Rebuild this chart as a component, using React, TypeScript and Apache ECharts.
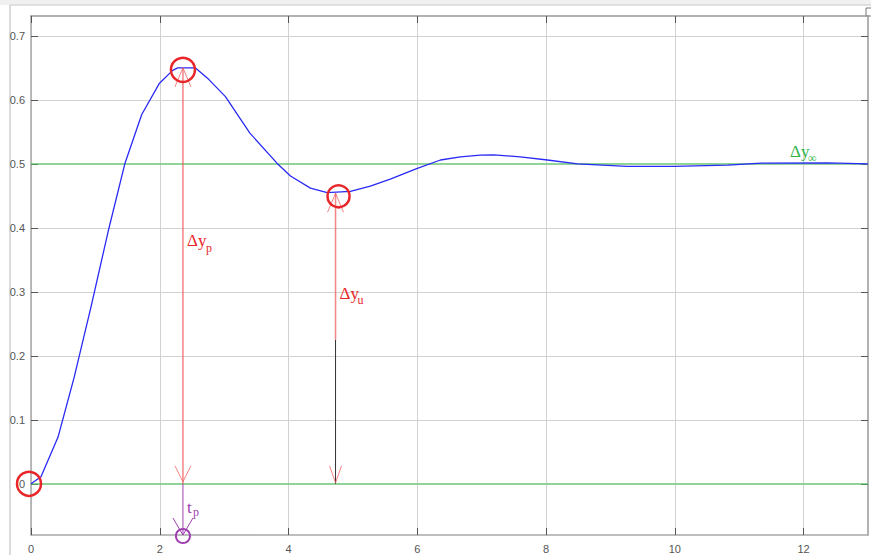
import React, { useEffect, useRef } from 'react';
import * as echarts from 'echarts';

// Step response samples (time, output)
const timeValues = [0, 0.155, 0.42, 0.669, 0.933, 1.2, 1.46, 1.72, 1.996, 2.2, 2.28, 2.55, 2.76, 3.02, 3.4, 3.82, 4.03, 4.34, 4.6, 4.96, 5.27, 5.58, 6.0, 6.36, 6.67, 6.98, 7.19, 7.6, 8.02, 8.49, 9.26, 9.98, 10.82, 11.34, 12.37, 13];
const responseValues = [0, 0.011, 0.073, 0.166, 0.277, 0.395, 0.501, 0.577, 0.626, 0.646, 0.65, 0.65, 0.632, 0.605, 0.548, 0.501, 0.481, 0.462, 0.455, 0.457, 0.465, 0.476, 0.493, 0.506, 0.511, 0.5135, 0.514, 0.511, 0.506, 0.5, 0.496, 0.496, 0.498, 0.501, 0.5015, 0.5];

// Axis ticks
const xTickValues = [0, 2, 4, 6, 8, 10, 12];
const yTickValues = [0, 0.1, 0.2, 0.3, 0.4, 0.5, 0.6, 0.7];

// Reference levels and annotated points
const steadyValue = 0.5;
const zeroValue = 0;
const peakTime = 2.36;
const peakValue = 0.65;
const underTime = 4.73;
const underValue = 0.454;

const X_MIN = 0;
const X_MAX = 13;
const Y_MIN = -0.08;
const Y_MAX = 0.731;

const RED = '#e8262a';
const RED_LIGHT = 'rgba(240,90,90,0.75)';
const GREEN = '#5fcc6e';
const GREEN_TEXT = '#2fb44a';
const PURPLE = '#a040b0';
const SERIF = '"Liberation Serif", "DejaVu Serif", serif';

export default function App() {
  const ref = useRef<HTMLDivElement>(null);

  useEffect(() => {
    if (!ref.current) return;
    const chart = echarts.init(ref.current, undefined, { renderer: 'svg' });

    const curve = timeValues.map((t, i) => [t, responseValues[i]]);

    const renderAnnotations = (_params: any, api: any) => {
      const c = (t: number, v: number) => api.coord([t, v]);
      const pBase = c(peakTime, zeroValue);
      const pTop = c(peakTime, peakValue);
      const uBase = c(underTime, zeroValue);
      const uTop = c(underTime, underValue);
      const uMid = c(underTime, 0.225);
      const pBottom = c(peakTime, Y_MIN);
      const origin = c(0, 0);
      const lbP = c(peakTime, 0.38);
      const lbU = c(underTime, 0.297);
      const lbInf = c(11.79, 0.519);
      const lbT = c(peakTime, -0.037);

      const line = (x1: number, y1: number, x2: number, y2: number, stroke: string, w = 1) => ({
        type: 'line',
        shape: { x1, y1, x2, y2 },
        style: { stroke, lineWidth: w },
      });
      const arrowUp = (x: number, y: number, stroke: string) => [
        line(x - 8, y + 19, x, y, stroke, 1),
        line(x + 8, y + 19, x, y, stroke, 1),
      ];
      const arrowDown = (x: number, y: number, stroke: string, dx = 8, dy = 16) => [
        line(x - dx, y - dy, x, y, stroke, 1),
        line(x + dx, y - dy, x, y, stroke, 1),
      ];
      const circle = (cx: number, cy: number, r: number, stroke: string, w = 2.5) => ({
        type: 'circle',
        shape: { cx, cy, r },
        style: { fill: 'none', stroke, lineWidth: w },
      });
      const text = (x: number, y: number, s: string, size: number, fill: string) => ({
        type: 'text',
        x,
        y,
        style: { text: s, fontSize: size, fontFamily: SERIF, fill, verticalAlign: 'middle', align: 'left' },
      });

      return {
        type: 'group',
        children: [
          // peak arrow
          line(pBase[0], pBase[1], pTop[0], pTop[1], RED_LIGHT, 1.5),
          ...arrowUp(pTop[0], pTop[1], RED_LIGHT),
          ...arrowDown(pBase[0], pBase[1] - 2, RED_LIGHT, 8, 16),
          circle(pTop[0], pTop[1] + 2, 12, RED),
          // undershoot arrow
          line(uBase[0], uBase[1], uMid[0], uMid[1], '#333333', 1),
          line(uMid[0], uMid[1], uTop[0], uTop[1], RED_LIGHT, 1.5),
          ...arrowUp(uTop[0], uTop[1], RED_LIGHT),
          ...arrowDown(uBase[0], uBase[1] - 1, RED_LIGHT, 6, 17),
          circle(uTop[0] + 3, uTop[1] + 3, 11, RED),
          // peak time
          line(pBase[0], pBase[1], pBottom[0], pBottom[1], PURPLE, 1),
          ...arrowDown(pBottom[0], pBottom[1], PURPLE, 10, 17),
          circle(pBottom[0], pBottom[1] + 1, 7, PURPLE, 2),
          // origin
          circle(origin[0] - 2, origin[1], 12, RED),
          // labels
          text(lbP[0] + 4, lbP[1], 'Δy', 17, RED),
          text(lbP[0] + 23, lbP[1] + 7, 'p', 12, RED),
          text(lbU[0] + 4, lbU[1], 'Δy', 17, RED),
          text(lbU[0] + 22, lbU[1] + 6, 'u', 12, RED),
          text(lbInf[0], lbInf[1], 'Δy', 17, GREEN_TEXT),
          text(lbInf[0] + 18, lbInf[1] + 6, '∞', 12, GREEN_TEXT),
          text(lbT[0] + 4, lbT[1], 't', 17, PURPLE),
          text(lbT[0] + 10, lbT[1] + 5, 'p', 12, PURPLE),
        ],
      };
    };

    const axisCommon = {
      type: 'value',
      axisLine: { show: true, onZero: false, lineStyle: { color: '#a8a8a8', width: 1.5 } },
      axisTick: { show: true, inside: true, length: 7, lineStyle: { color: '#555555' } },
    };

    chart.setOption({
      animation: false,
      backgroundColor: '#ffffff',
      grid: { left: 31, right: 3, top: 16, bottom: 20, containLabel: false },
      xAxis: [
        {
          ...axisCommon,
          min: X_MIN,
          max: X_MAX,
          position: 'bottom',
          axisTick: { ...axisCommon.axisTick, customValues: xTickValues },
          axisLabel: {
            customValues: xTickValues,
            color: '#555555',
            fontSize: 11,
            fontFamily: '"Liberation Sans", Arial, sans-serif',
            margin: 8,
          },
          splitLine: { show: true, lineStyle: { color: '#d2d2d2', width: 1 } },
        },
        {
          ...axisCommon,
          min: X_MIN,
          max: X_MAX,
          position: 'top',
          axisLine: { show: true, onZero: false, lineStyle: { color: '#999999', width: 1.5 } },
          axisTick: { ...axisCommon.axisTick, customValues: xTickValues },
          axisLabel: { show: false },
          splitLine: { show: false },
        },
      ],
      yAxis: [
        {
          ...axisCommon,
          min: Y_MIN,
          max: Y_MAX,
          position: 'left',
          axisTick: { ...axisCommon.axisTick, customValues: yTickValues },
          axisLabel: {
            customValues: yTickValues,
            color: '#555555',
            fontSize: 11,
            fontFamily: '"Liberation Sans", Arial, sans-serif',
            margin: 6,
            formatter: (v: number) => String(Math.round(v * 10) / 10),
          },
          splitLine: { show: true, lineStyle: { color: '#d2d2d2', width: 1 } },
        },
        {
          ...axisCommon,
          min: Y_MIN,
          max: Y_MAX,
          position: 'right',
          axisLine: { show: true, onZero: false, lineStyle: { color: '#999999', width: 1.5 } },
          axisTick: { ...axisCommon.axisTick, customValues: yTickValues },
          axisLabel: { show: false },
          splitLine: { show: false },
        },
      ],
      graphic: [
        { type: 'rect', left: 0, top: 0, shape: { width: 871, height: 5 }, style: { fill: '#f0f0f0' }, silent: true },
        { type: 'line', shape: { x1: 10, y1: 5, x2: 871, y2: 5 }, style: { stroke: '#c8c8c8', lineWidth: 1 }, silent: true },
        { type: 'line', shape: { x1: 10, y1: 5, x2: 10, y2: 555 }, style: { stroke: '#b8b8b8', lineWidth: 1 }, silent: true },
        { type: 'rect', shape: { x: 866, y: 8, width: 6, height: 8 }, style: { fill: '#fff', stroke: '#777', lineWidth: 1 }, silent: true },
      ],
      series: [
        {
          type: 'line',
          name: 'zero',
          data: [[X_MIN, zeroValue], [X_MAX, zeroValue]],
          symbol: 'none',
          lineStyle: { color: GREEN, width: 1.2 },
          silent: true,
        },
        {
          type: 'line',
          name: 'steady',
          data: [[X_MIN, steadyValue], [X_MAX, steadyValue]],
          symbol: 'none',
          lineStyle: { color: GREEN, width: 1.2 },
          silent: true,
        },
        {
          type: 'line',
          name: 'response',
          data: curve,
          symbol: 'none',
          lineStyle: { color: '#2a2af5', width: 1.3 },
          silent: true,
        },
        {
          type: 'custom',
          data: [[0, 0]],
          renderItem: renderAnnotations,
          clip: false,
          silent: true,
          z: 10,
        },
      ],
    });

    return () => chart.dispose();
  }, []);

  return (
    <div
      ref={ref}
      style={{ position: 'fixed', left: 0, top: 0, width: 871, height: 555, background: '#fff' }}
    />
  );
}
